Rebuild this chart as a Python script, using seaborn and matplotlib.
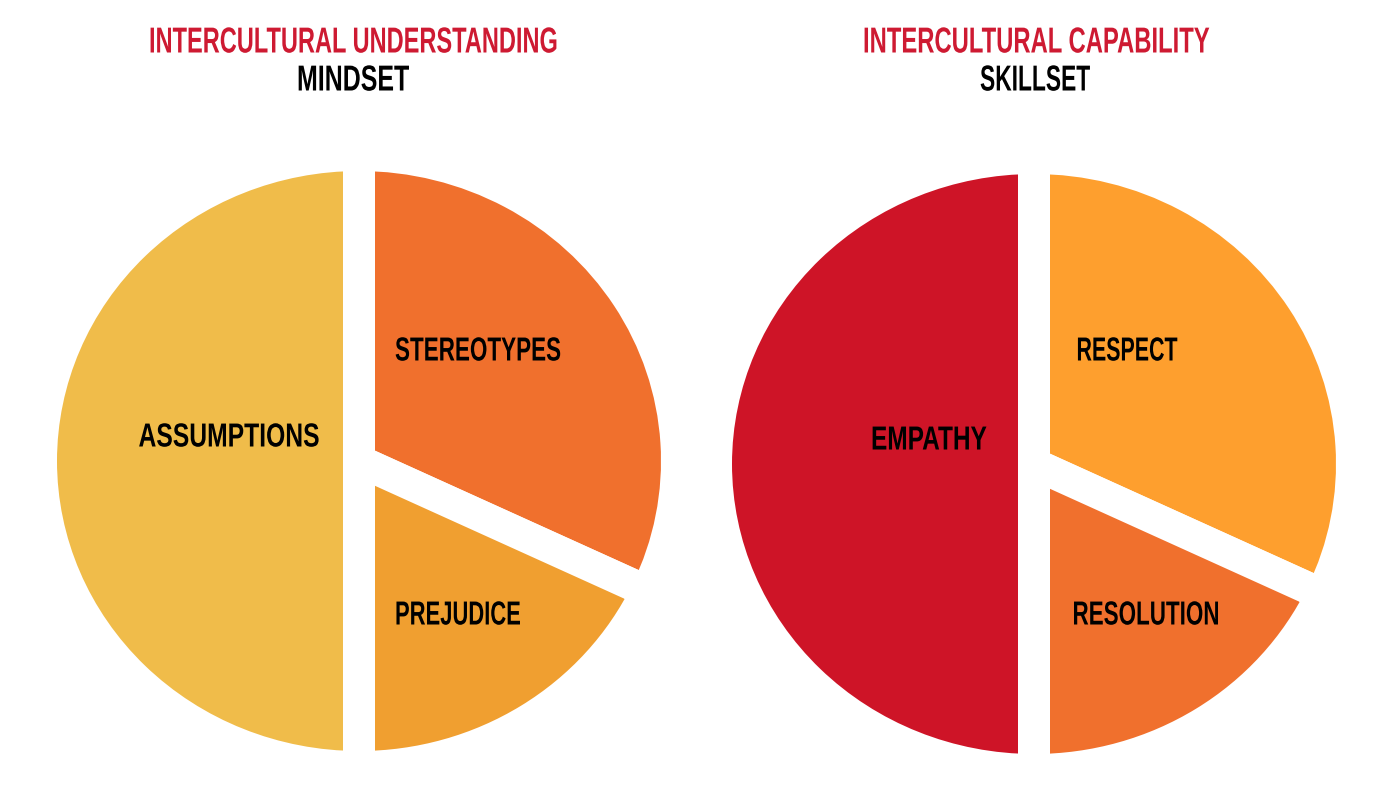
import matplotlib
matplotlib.use("Agg")
import matplotlib.patheffects as pe
import matplotlib.pyplot as plt
import seaborn as sns
from matplotlib.transforms import Affine2D

W, H = 1384, 790

left_labels = ["STEREOTYPES", "PREJUDICE", "ASSUMPTIONS"]
left_values = [32, 18, 50]
left_colors = ["#f0702d", "#f09f30", "#f0bc4a"]

right_labels = ["RESPECT", "RESOLUTION", "EMPATHY"]
right_values = [32, 18, 50]
right_colors = ["#fe9f2e", "#f0702d", "#ce1427"]

sns.set_theme(style="white")
plt.rcParams["font.family"] = ["Liberation Sans", "DejaVu Sans"]


class Squeeze(pe.AbstractPathEffect):
    """Narrow the glyphs around a pixel x, no condensed font is installed."""

    def __init__(self, center, factor):
        super().__init__()
        self.center = center
        self.factor = factor

    def draw_path(self, renderer, gc, tpath, affine, rgbFace=None):
        squeeze = Affine2D().translate(-self.center, 0).scale(self.factor, 1).translate(self.center, 0)
        renderer.draw_path(gc, tpath, affine + squeeze, rgbFace)


def put_text(fig, label, px, py, width, color="black", size=26):
    txt = fig.text(px / W, 1 - py / H, label, ha="center", va="center",
                   fontsize=size, fontweight="bold", color=color)
    full = txt.get_window_extent(fig.canvas.get_renderer()).width
    txt.set_path_effects([Squeeze(px, width / full)])


def draw_pie(fig, cx, cy, values, colors):
    # radii include the half of the white stroke that eats into the arc
    rx, ry = 318, 306
    ax = fig.add_axes([(cx - rx) / W, 1 - (cy + ry) / H, 2 * rx / W, 2 * ry / H])
    ax.pie(values, colors=sns.color_palette(colors), startangle=90, counterclock=False,
           radius=1, wedgeprops={"edgecolor": "white", "linewidth": 32 * 72 / 100})
    # original is slightly stretched sideways
    ax.set_aspect("auto")
    ax.set_xlim(-1, 1)
    ax.set_ylim(-1, 1)


fig = plt.figure(figsize=(W / 100, H / 100), dpi=100, facecolor="white")

draw_pie(fig, 359, 461, left_values, left_colors)
draw_pie(fig, 1034, 464, right_values, right_colors)

put_text(fig, left_labels[0], 478, 352, 166, size=24)
put_text(fig, left_labels[1], 458, 616, 126, size=24)
put_text(fig, left_labels[2], 229, 438, 181, size=24)
put_text(fig, right_labels[0], 1127, 352, 101, size=24)
put_text(fig, right_labels[1], 1146, 616, 147, size=24)
put_text(fig, right_labels[2], 929, 441, 116, size=24)

put_text(fig, "INTERCULTURAL UNDERSTANDING", 353, 43, 408, color="#ce1a32")
put_text(fig, "MINDSET", 353, 81, 112)
put_text(fig, "INTERCULTURAL CAPABILITY", 1036, 43, 346, color="#ce1a32")
put_text(fig, "SKILLSET", 1035, 81, 110)

fig.savefig("out.png", dpi=100, facecolor="white")
